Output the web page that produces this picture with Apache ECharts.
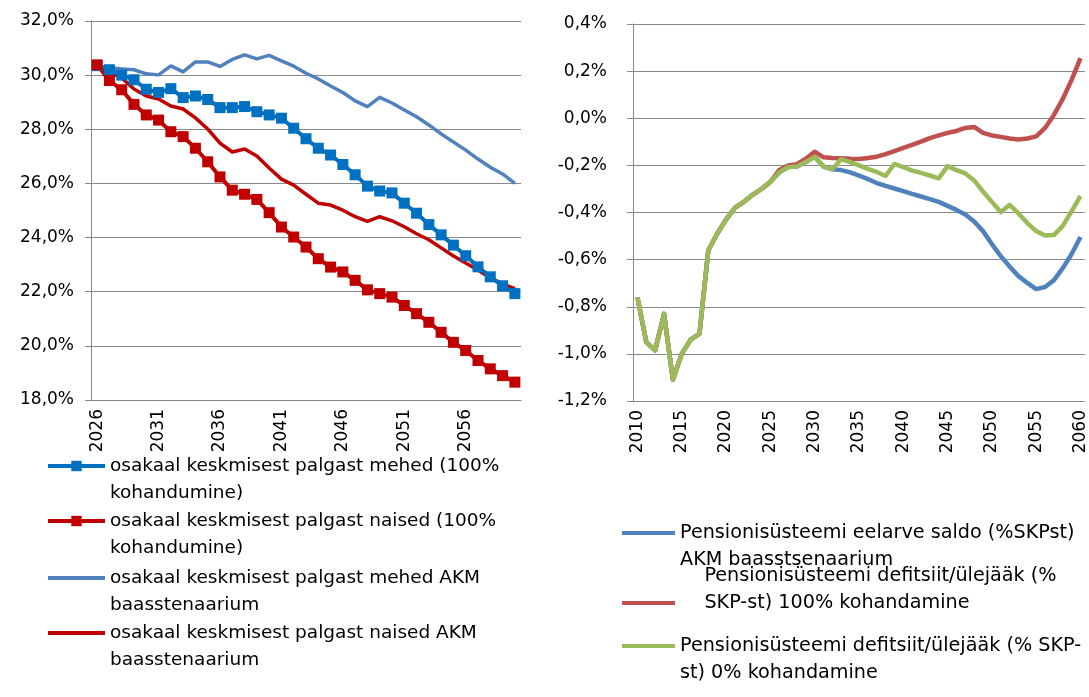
<!DOCTYPE html>
<html>
<head>
<meta charset="utf-8">
<script src="https://cdn.jsdelivr.net/npm/echarts@6/dist/echarts.min.js"></script>
<style>
  html, body { margin: 0; padding: 0; background: #fff; }
  #chart { width: 1089px; height: 697px; }
</style>
</head>
<body>
<div id="chart"></div>
<script>
// Left panel: share of average wage, 2026-2060
const yearsLeft = [2026,2027,2028,2029,2030,2031,2032,2033,2034,2035,2036,2037,2038,2039,2040,2041,2042,2043,2044,2045,2046,2047,2048,2049,2050,2051,2052,2053,2054,2055,2056,2057,2058,2059,2060];
const mehed100 = [30.35,30.2,30.0,29.83,29.48,29.36,29.5,29.17,29.23,29.1,28.8,28.8,28.84,28.65,28.53,28.41,28.04,27.65,27.3,27.05,26.7,26.32,25.9,25.72,25.65,25.27,24.9,24.48,24.1,23.72,23.33,22.92,22.55,22.22,21.93];
const naised100 = [30.38,29.8,29.46,28.92,28.53,28.34,27.91,27.73,27.3,26.8,26.24,25.75,25.6,25.41,24.92,24.39,24.02,23.65,23.22,22.91,22.73,22.42,22.07,21.93,21.8,21.49,21.19,20.87,20.5,20.13,19.83,19.46,19.15,18.9,18.66];
const mehedAKM = [30.32,30.27,30.23,30.2,30.05,30.01,30.34,30.12,30.49,30.49,30.32,30.58,30.75,30.6,30.73,30.53,30.33,30.07,29.86,29.6,29.36,29.05,28.84,29.18,28.97,28.71,28.46,28.16,27.83,27.53,27.23,26.9,26.6,26.35,26.0];
const naisedAKM = [30.38,30.12,29.9,29.49,29.23,29.12,28.86,28.75,28.42,28.01,27.49,27.16,27.27,27.01,26.57,26.16,25.94,25.6,25.27,25.2,25.01,24.77,24.6,24.77,24.62,24.4,24.14,23.92,23.62,23.32,23.06,22.8,22.51,22.29,22.11];

// Right panel: pension system balance, % of GDP, 2010-2060
const yearsRight = [2010,2011,2012,2013,2014,2015,2016,2017,2018,2019,2020,2021,2022,2023,2024,2025,2026,2027,2028,2029,2030,2031,2032,2033,2034,2035,2036,2037,2038,2039,2040,2041,2042,2043,2044,2045,2046,2047,2048,2049,2050,2051,2052,2053,2054,2055,2056,2057,2058,2059,2060];
const saldoAKM = [-0.76,-0.95,-0.985,-0.83,-1.11,-1.0,-0.94,-0.915,-0.56,-0.49,-0.43,-0.38,-0.355,-0.325,-0.3,-0.27,-0.23,-0.207,-0.205,-0.186,-0.164,-0.205,-0.217,-0.22,-0.23,-0.243,-0.258,-0.275,-0.287,-0.298,-0.309,-0.321,-0.332,-0.343,-0.355,-0.372,-0.389,-0.408,-0.438,-0.479,-0.534,-0.585,-0.629,-0.67,-0.699,-0.725,-0.716,-0.687,-0.636,-0.576,-0.504];
const defitsiit100 = [-0.76,-0.95,-0.985,-0.83,-1.11,-1.0,-0.94,-0.915,-0.56,-0.49,-0.43,-0.38,-0.355,-0.325,-0.3,-0.27,-0.22,-0.2,-0.195,-0.172,-0.142,-0.166,-0.169,-0.17,-0.172,-0.173,-0.169,-0.163,-0.152,-0.139,-0.126,-0.113,-0.099,-0.084,-0.073,-0.062,-0.054,-0.041,-0.037,-0.062,-0.073,-0.079,-0.086,-0.09,-0.086,-0.077,-0.041,0.014,0.082,0.163,0.255];
const defitsiit0 = [-0.76,-0.95,-0.985,-0.83,-1.11,-1.0,-0.94,-0.915,-0.56,-0.49,-0.43,-0.38,-0.355,-0.325,-0.3,-0.27,-0.23,-0.207,-0.205,-0.186,-0.164,-0.205,-0.217,-0.173,-0.186,-0.2,-0.215,-0.228,-0.245,-0.194,-0.207,-0.222,-0.232,-0.243,-0.255,-0.203,-0.22,-0.234,-0.264,-0.311,-0.355,-0.398,-0.368,-0.404,-0.445,-0.479,-0.498,-0.496,-0.457,-0.394,-0.33];

// Series names, as two wrapped legend lines each
const namesLeft = [
  ['osakaal keskmisest palgast mehed (100%', 'kohandumine)'],
  ['osakaal keskmisest palgast naised (100%', 'kohandumine)'],
  ['osakaal keskmisest palgast mehed AKM', 'baasstenaarium'],
  ['osakaal keskmisest palgast naised AKM', 'baasstenaarium']
];
const namesRight = [
  ['Pensionisüsteemi eelarve saldo (%SKPst)', 'AKM baasstsenaarium'],
  ['    Pensionisüsteemi defitsiit/ülejääk (%', '    SKP-st) 100% kohandamine'],
  ['Pensionisüsteemi defitsiit/ülejääk (% SKP-', 'st) 0% kohandamine']
];
const nm = (pair) => pair.join(' ');

const FONT = 'DejaVu Sans';
const FS = 17;
const GRIDC = '#898989';
const LH = 27;

function pct1(v) { return v.toFixed(1).replace('.', ',') + '%'; }

// One legend block per series; the icon sits level with the first
// (or, for alignLine 2, the second) of the two text lines.
function legendItem(pair, left, centerY, itemWidth, alignLine, fontSize, plainIcon) {
  const text = alignLine === 1 ? '\n' + pair[0] + '\n' + pair[1] : pair[0] + '\n' + pair[1] + '\n';
  const iconH = plainIcon ? 4 : 13;
  const entry = { name: nm(pair) };
  if (plainIcon) entry.icon = 'rect';
  return {
    data: [entry],
    left: left,
    top: centerY - LH * 1.5,
    padding: 0,
    itemWidth: itemWidth,
    itemHeight: iconH,
    selectedMode: false,
    lineStyle: { width: 4 },
    formatter: () => text,
    textStyle: { fontFamily: FONT, fontSize: fontSize, color: '#000', lineHeight: LH }
  };
}

const chart = echarts.init(document.getElementById('chart'), null, { renderer: 'canvas' });

const option = {
  animation: false,
  backgroundColor: '#fff',
  grid: [
    { left: 91, top: 21, width: 430, height: 379 },
    { left: 633, top: 24, width: 452, height: 377 }
  ],
  xAxis: [
    {
      type: 'category', gridIndex: 0, data: yearsLeft, boundaryGap: true,
      axisLine: { lineStyle: { color: GRIDC, width: 1 } },
      axisTick: { interval: 4, length: 6, lineStyle: { color: GRIDC } },
      axisLabel: { interval: 4, rotate: 90, margin: 9, color: '#000', fontFamily: FONT, fontSize: FS }
    },
    {
      type: 'category', gridIndex: 1, data: yearsRight, boundaryGap: true,
      axisLine: { lineStyle: { color: GRIDC, width: 1 } },
      axisTick: { interval: 4, length: 6, lineStyle: { color: GRIDC } },
      axisLabel: { interval: 4, rotate: 90, margin: 9, color: '#000', fontFamily: FONT, fontSize: FS }
    }
  ],
  yAxis: [
    {
      type: 'value', gridIndex: 0, min: 18, max: 32, interval: 2,
      axisLine: { show: true, lineStyle: { color: GRIDC } },
      axisTick: { show: true, length: 6, lineStyle: { color: GRIDC } },
      splitLine: { lineStyle: { color: GRIDC, width: 1 } },
      axisLabel: { margin: 17, color: '#000', fontFamily: FONT, fontSize: FS, formatter: pct1 }
    },
    {
      type: 'value', gridIndex: 1, min: -1.2, max: 0.4, interval: 0.2,
      axisLine: { show: true, lineStyle: { color: GRIDC } },
      axisTick: { show: true, length: 6, lineStyle: { color: GRIDC } },
      splitLine: { lineStyle: { color: GRIDC, width: 1 } },
      axisLabel: { margin: 26, color: '#000', fontFamily: FONT, fontSize: FS, formatter: pct1 }
    }
  ],
  legend: [
    legendItem(namesLeft[0], 46, 466, 57, 1, 18.5, false),
    legendItem(namesLeft[1], 46, 521, 57, 1, 18.5, false),
    legendItem(namesLeft[2], 48, 578, 57, 1, 18.5, true),
    legendItem(namesLeft[3], 48, 633, 57, 1, 18.5, true),
    legendItem(namesRight[0], 622, 533, 53, 1, 19.2, true),
    legendItem(namesRight[1], 622, 603, 53, 2, 19.2, true),
    legendItem(namesRight[2], 622, 646, 53, 1, 19.2, true)
  ],
  series: [
    {
      name: nm(namesLeft[2]), type: 'line', xAxisIndex: 0, yAxisIndex: 0, data: mehedAKM,
      symbol: 'none', lineStyle: { color: '#4F81BD', width: 3.5, join: 'round' }, itemStyle: { color: '#4F81BD' }
    },
    {
      name: nm(namesLeft[3]), type: 'line', xAxisIndex: 0, yAxisIndex: 0, data: naisedAKM,
      symbol: 'none', lineStyle: { color: '#C00000', width: 3.5, join: 'round' }, itemStyle: { color: '#C00000' }
    },
    {
      name: nm(namesLeft[0]), type: 'line', xAxisIndex: 0, yAxisIndex: 0, data: mehed100,
      symbol: 'rect', symbolSize: 11, showAllSymbol: true,
      lineStyle: { color: '#0070C0', width: 4 }, itemStyle: { color: '#0070C0', borderWidth: 0 }
    },
    {
      name: nm(namesLeft[1]), type: 'line', xAxisIndex: 0, yAxisIndex: 0, data: naised100,
      symbol: 'rect', symbolSize: 11, showAllSymbol: true,
      lineStyle: { color: '#C00000', width: 4 }, itemStyle: { color: '#C00000', borderWidth: 0 }
    },
    {
      name: nm(namesRight[0]), type: 'line', xAxisIndex: 1, yAxisIndex: 1, data: saldoAKM,
      symbol: 'none', lineStyle: { color: '#4F81BD', width: 4.5, join: 'round' }, itemStyle: { color: '#4F81BD' }
    },
    {
      name: nm(namesRight[1]), type: 'line', xAxisIndex: 1, yAxisIndex: 1, data: defitsiit100,
      symbol: 'none', lineStyle: { color: '#C0504D', width: 4.5, join: 'round' }, itemStyle: { color: '#C0504D' }
    },
    {
      name: nm(namesRight[2]), type: 'line', xAxisIndex: 1, yAxisIndex: 1, data: defitsiit0,
      symbol: 'none', lineStyle: { color: '#9BBB59', width: 4.5, join: 'round' }, itemStyle: { color: '#9BBB59' }
    }
  ]
};

chart.setOption(option);
</script>
</body>
</html>
